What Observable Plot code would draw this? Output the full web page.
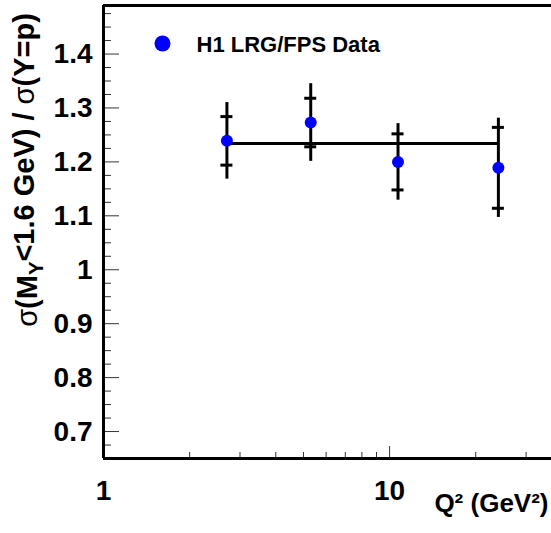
<!DOCTYPE html>
<html><head><meta charset="utf-8">
<script src="https://cdn.jsdelivr.net/npm/d3@7"></script>
<script src="https://cdn.jsdelivr.net/npm/@observablehq/plot@0.6"></script>
<style>
html,body{margin:0;padding:0;background:#fff;overflow:hidden;}
#chart svg{display:block;}
</style></head><body><div id="chart"></div>
<script>
// Data
const q2 = [2.7, 5.3, 10.7, 24];
const ratio = [1.239, 1.273, 1.200, 1.189];
const statErr = [0.045, 0.045, 0.052, 0.075];
const totErr = [0.071, 0.072, 0.071, 0.092];
const fitValue = 1.234;

// Axis ticks
const xMajor = [1, 10];
const xMinor = [2, 3, 4, 5, 6, 7, 8, 9, 20, 30];
const yMajor = [0.7, 0.8, 0.9, 1, 1.1, 1.2, 1.3, 1.4];
const yMinor = [0.675, 0.725, 0.75, 0.775, 0.825, 0.85, 0.875, 0.925, 0.95, 0.975,
  1.025, 1.05, 1.075, 1.125, 1.15, 1.175, 1.225, 1.25, 1.275, 1.325, 1.35, 1.375, 1.425, 1.45, 1.475];

// Texts
const legendLabel = "H1 LRG/FPS Data";
const xTitle = "Q² (GeV²)";
const yTitle = "σ(MY<1.6 GeV) / σ(Y=p)";

const points = q2.map((q, i) => ({q, r: ratio[i], stat: statErr[i], tot: totErr[i]}));
const statTicks = points.flatMap(d => [{q: d.q, y: d.r + d.stat}, {q: d.q, y: d.r - d.stat}]);

const font = "'Liberation Sans', Arial, Helvetica, sans-serif";
const blue = "#0000ff";

const chart = Plot.plot({
  width: 551, height: 533,
  marginLeft: 103, marginRight: 0, marginTop: 5, marginBottom: 75,
  style: {fontFamily: font, background: "#fff", color: "#000", overflow: "hidden"},
  x: {type: "log", domain: [1, 36.8]},
  y: {domain: [0.65, 1.49]},
  marks: [
    // inner ticks
    Plot.axisY(yMinor, {anchor: "left", tickSize: -8, fill: "none", stroke: "#333", label: null}),
    Plot.axisY(yMajor, {anchor: "left", tickSize: -16, fill: "none", stroke: "#333", label: null}),
    Plot.axisX(xMinor, {anchor: "bottom", tickSize: -6, fill: "none", stroke: "#333", label: null}),
    Plot.axisX(xMajor, {anchor: "bottom", tickSize: -12, fill: "none", stroke: "#333", label: null}),
    // tick labels
    Plot.axisY(yMajor, {anchor: "left", tickSize: 0, tickPadding: 11, fontSize: 28, fontWeight: "bold", label: null, tickFormat: d => String(d)}),
    Plot.axisX(xMajor, {anchor: "bottom", tickSize: 0, tickPadding: 22, fontSize: 28, fontWeight: "bold", label: null, tickFormat: d => String(d)}),
    // frame
    Plot.ruleX([1], {strokeWidth: 3}),
    Plot.ruleY([0.65, 1.49], {strokeWidth: 3}),
    // titles
    Plot.text([yTitle], {frameAnchor: "left", rotate: -90, dx: -76, dy: -62, textAnchor: "middle", lineAnchor: "middle", fontSize: 29, fontWeight: "bold", className: "ytitle"}),
    Plot.text([xTitle], {frameAnchor: "bottom-right", dx: -3, dy: 45, textAnchor: "end", lineAnchor: "middle", fontSize: 26, fontWeight: "bold"}),
    // total error bars
    Plot.ruleX(points, {x: "q", y1: d => d.r - d.tot, y2: d => d.r + d.tot, strokeWidth: 3}),
    // fit line
    Plot.ruleY([fitValue], {x1: q2[0], x2: q2[q2.length - 1], strokeWidth: 3}),
    // stat error ticks
    Plot.ruleY(statTicks, {y: "y", x1: "q", x2: "q", insetLeft: -6, insetRight: -6, strokeWidth: 3}),
    // data points
    Plot.dot(points, {x: "q", y: "r", r: 6, fill: blue}),
    // legend
    Plot.dot([legendLabel], {frameAnchor: "top-left", dx: 59, dy: 38, r: 8, fill: blue}),
    Plot.text([legendLabel], {frameAnchor: "top-left", dx: 93, dy: 39, textAnchor: "start", lineAnchor: "middle", fontSize: 22, fontWeight: "bold"})
  ]
});

document.getElementById("chart").appendChild(chart);

// subscript Y in the y-axis title
d3.select(chart).selectAll("g.ytitle text").each(function () {
  const t = d3.select(this);
  t.text(null);
  t.append("tspan").attr("font-weight", "normal").text("σ");
  t.append("tspan").text("(M");
  t.append("tspan").attr("dy", "0.3em").attr("font-size", "70%").text("Y");
  t.append("tspan").attr("dy", "-0.3em").text("<1.6 GeV) / ");
  t.append("tspan").attr("font-weight", "normal").text("σ");
  t.append("tspan").text("(Y=p)");
});
</script>
</body></html>
